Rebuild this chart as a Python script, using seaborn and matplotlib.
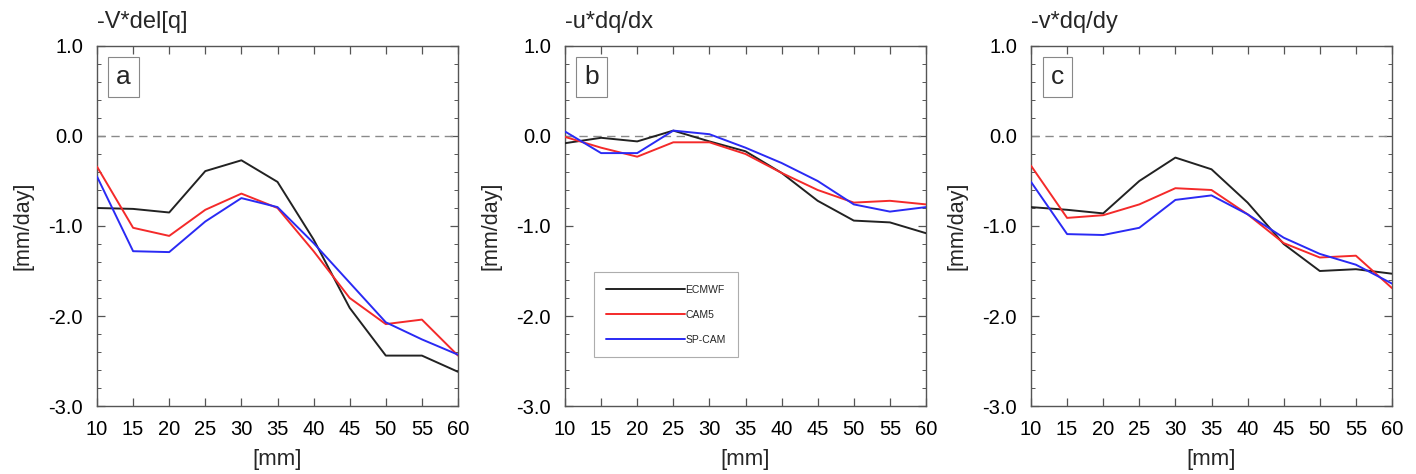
import numpy as np
import pandas as pd
import matplotlib
matplotlib.use("Agg")
import matplotlib.pyplot as plt
import seaborn as sns
from matplotlib.ticker import MultipleLocator

sns.set_theme(style="white")
plt.rcParams['font.family'] = ['Liberation Sans', 'DejaVu Sans']

x_vals = [10, 15, 20, 25, 30, 35, 40, 45, 50, 55, 60]
models = ["ECMWF", "CAM5", "SP-CAM"]
panel_titles = ["-V*del[q]", "-u*dq/dx", "-v*dq/dy"]
panel_tags = ["a", "b", "c"]

a_ecmwf = [-0.80, -0.81, -0.85, -0.39, -0.27, -0.51, -1.15, -1.91, -2.44, -2.44, -2.62]
a_cam5 = [-0.34, -1.02, -1.11, -0.82, -0.64, -0.80, -1.28, -1.80, -2.09, -2.04, -2.44]
a_spcam = [-0.45, -1.28, -1.29, -0.95, -0.69, -0.79, -1.19, -1.63, -2.07, -2.26, -2.43]

b_ecmwf = [-0.08, -0.02, -0.06, 0.06, -0.06, -0.17, -0.41, -0.72, -0.94, -0.96, -1.08]
b_cam5 = [-0.01, -0.13, -0.23, -0.07, -0.07, -0.20, -0.41, -0.60, -0.74, -0.72, -0.76]
b_spcam = [0.05, -0.19, -0.19, 0.06, 0.02, -0.13, -0.30, -0.50, -0.76, -0.84, -0.79]

c_ecmwf = [-0.79, -0.82, -0.86, -0.50, -0.24, -0.37, -0.74, -1.20, -1.50, -1.48, -1.53]
c_cam5 = [-0.33, -0.91, -0.88, -0.76, -0.58, -0.60, -0.87, -1.19, -1.35, -1.33, -1.69]
c_spcam = [-0.51, -1.09, -1.10, -1.02, -0.71, -0.66, -0.87, -1.13, -1.31, -1.43, -1.64]

panels = [
    (a_ecmwf, a_cam5, a_spcam),
    (b_ecmwf, b_cam5, b_spcam),
    (c_ecmwf, c_cam5, c_spcam),
]
palette = {"ECMWF": "#222222", "CAM5": "#f42a2a", "SP-CAM": "#2a2af4"}

fig = plt.figure(figsize=(14.16, 4.74), dpi=100)
lefts = [97 / 1416, 565 / 1416, 1031 / 1416]
w = 361 / 1416
b0 = 1 - 406 / 474
h = 360 / 474

for i, (series, title, tag) in enumerate(zip(panels, panel_titles, panel_tags)):
    ax = fig.add_axes([lefts[i], b0, w, h])
    rows = []
    for m, vals in zip(models, series):
        for xv, yv in zip(x_vals, vals):
            rows.append({"x": xv, "y": yv, "model": m})
    df = pd.DataFrame(rows)
    ax.axhline(0, color="#8a8a8a", lw=1.0, ls=(0, (6, 4)), zorder=1)
    sns.lineplot(data=df, x="x", y="y", hue="model", hue_order=models,
                 palette=palette, lw=1.4, ax=ax, legend=(i == 1),
                 sort=False, zorder=3)
    ax.set_xlim(10, 60)
    ax.set_ylim(-3, 1)
    ax.set_xticks(x_vals)
    ax.set_xticklabels([str(v) for v in x_vals])
    ax.set_yticks([-3, -2, -1, 0, 1])
    ax.set_yticklabels(["-3.0", "-2.0", "-1.0", "0.0", "1.0"])
    ax.yaxis.set_minor_locator(MultipleLocator(0.2))
    ax.tick_params(axis="both", which="both", direction="in",
                   top=True, right=True, bottom=True, left=True,
                   colors="#555555", labelcolor="black")
    ax.tick_params(axis="both", which="major", length=6, width=0.9, labelsize=14.5)
    ax.tick_params(axis="y", which="major", pad=10)
    ax.tick_params(axis="x", which="major", pad=10)
    ax.tick_params(axis="y", which="minor", length=3, width=0.7)
    for s in ax.spines.values():
        s.set_color("#555555")
        s.set_linewidth(1.0)
    ax.set_xlabel("[mm]", fontsize=16, labelpad=7)
    ax.set_ylabel("[mm/day]", fontsize=15.5, labelpad=11)
    ax.text(0.0, 1.035, title, transform=ax.transAxes, fontsize=17,
            ha="left", va="bottom")
    ax.text(0.074, 0.915, tag, transform=ax.transAxes, fontsize=19,
            ha="center", va="center",
            bbox=dict(boxstyle="square,pad=0.3", fc="white", ec="#888888", lw=0.8))
    if i == 1:
        leg = ax.legend(title=None, loc="lower left", bbox_to_anchor=(0.08, 0.135),
                        fontsize=7.5, handlelength=7.5, handletextpad=0.1,
                        frameon=True, fancybox=False, edgecolor="#999999",
                        borderpad=1.2, labelspacing=1.45, borderaxespad=0)
        leg.get_frame().set_linewidth(0.8)

fig.savefig("out.png", dpi=100)
